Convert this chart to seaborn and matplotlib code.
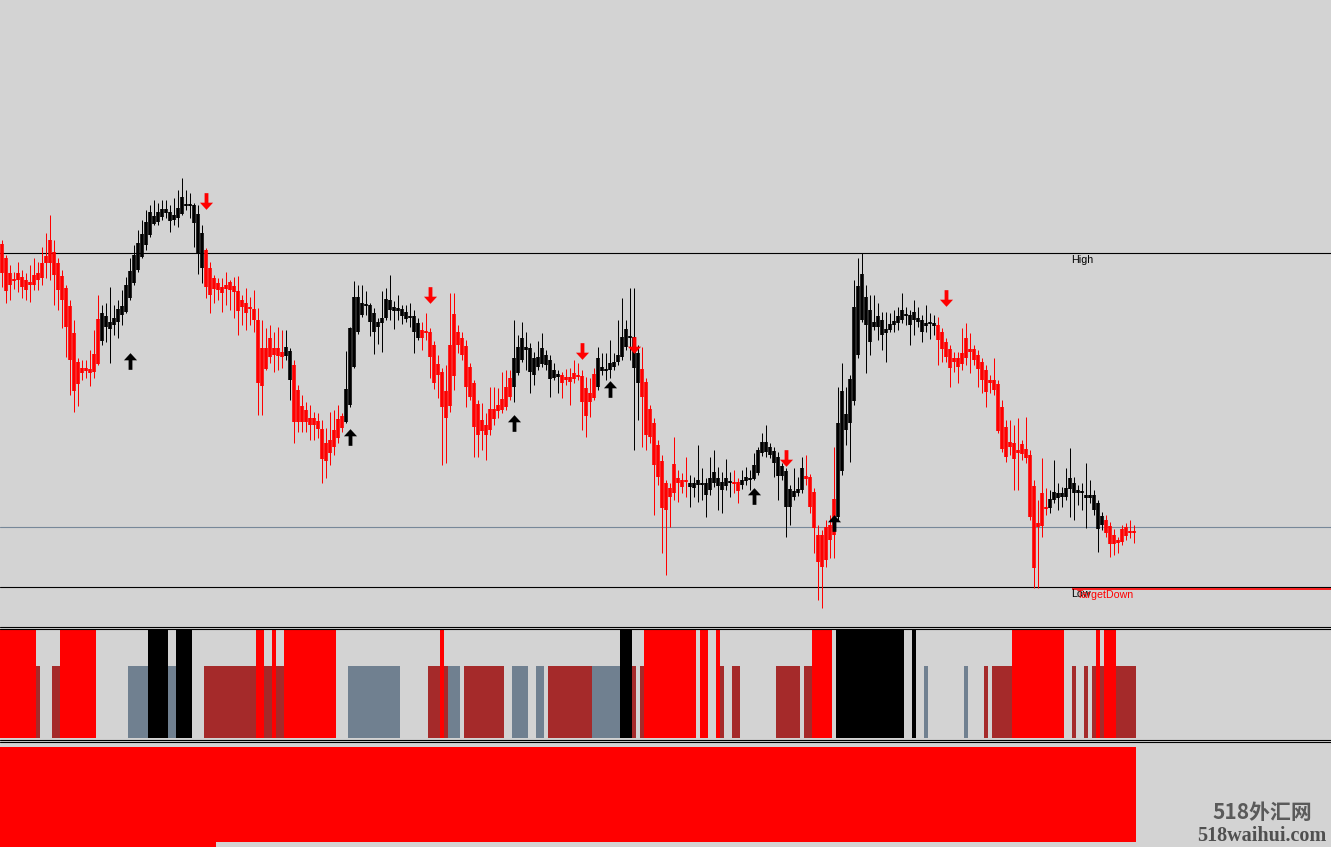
import numpy as np
import pandas as pd
import seaborn as sns
import matplotlib
matplotlib.use("Agg")
import matplotlib.pyplot as plt
from matplotlib.path import Path
from matplotlib.lines import Line2D

# ---------------- data (price in points) ----------------
body_hi = [376,362,347,341,347,343,340,338,345,347,357,364,380,368,357,344,332,314,287,258,
           252,252,251,266,301,307,304,298,302,311,314,335,349,365,377,386,398,408,404,408,
           411,411,408,405,412,423,416,416,415,406,387,370,352,342,337,333,335,338,334,329,
           320,317,313,311,300,272,272,282,272,272,268,273,269,255,230,214,210,202,202,199,
           191,177,180,190,201,204,231,292,323,323,317,315,315,307,298,302,321,320,313,312,
           311,308,303,304,297,290,289,288,275,256,248,229,275,306,288,282,274,253,237,216,
           200,195,211,211,215,221,233,242,262,273,282,273,272,262,263,272,265,260,250,246,
           245,243,243,247,244,244,232,227,246,262,253,251,257,258,265,283,291,284,283,267,
           251,238,211,197,175,159,137,132,156,142,140,140,137,137,140,137,137,142,148,142,
           138,142,139,138,138,140,143,142,155,170,178,178,173,169,163,154,149,131,129,131,
           152,144,143,128,85,85,93,95,121,197,229,206,241,313,334,346,323,310,298,304,
           300,291,296,299,304,310,306,305,308,302,300,297,297,297,295,288,278,271,262,262,
           267,282,271,271,265,258,250,240,240,236,213,193,178,177,170,176,171,165,134,97,
           127,113,121,128,127,127,132,142,137,130,129,125,125,125,117,104,100,94,85,80,
           91,93,89,89]
body_lo = [347,329,335,339,340,333,330,335,335,340,342,357,357,345,330,320,293,260,229,236,
           247,249,247,248,256,279,293,291,295,298,305,308,322,337,350,363,375,385,396,398,
           403,407,399,400,402,406,414,414,397,367,352,333,325,331,330,327,331,330,328,309,
           313,307,311,300,237,234,251,263,265,264,263,264,240,198,198,198,198,195,195,191,
           161,159,167,173,182,192,198,215,253,288,305,314,298,288,293,297,302,310,309,309,
           304,301,302,288,282,282,287,263,237,245,213,202,214,244,275,265,233,223,193,185,
           189,185,190,201,209,210,213,223,233,247,260,270,248,245,253,256,255,241,242,243,
           237,240,238,241,243,218,204,218,222,233,249,249,250,253,258,263,273,282,252,237,
           223,185,183,155,143,112,110,123,127,137,133,138,133,132,135,136,125,130,137,134,
           130,134,137,137,129,135,139,140,141,147,167,168,165,157,144,144,113,113,123,127,
           130,141,113,92,58,53,60,80,85,103,149,190,197,219,265,300,295,278,293,293,
           285,287,290,295,297,300,304,295,300,298,288,294,296,294,280,271,263,252,258,253,
           256,262,268,260,251,240,228,237,230,189,171,163,173,161,167,166,162,103,52,93,
           94,111,112,120,122,123,123,131,127,127,127,122,122,110,91,95,87,76,76,77,
           78,84,87,88]
high = [380,365,355,348,358,350,347,355,362,358,373,387,405,380,362,350,335,320,300,262,
        260,260,270,290,325,315,317,333,315,320,330,343,362,375,390,400,410,415,420,417,
        420,420,415,422,430,442,430,427,417,415,395,372,358,345,342,342,348,340,343,344,
        325,332,323,330,312,300,292,295,288,293,290,290,272,260,235,225,218,215,208,207,
        200,192,208,210,215,207,269,293,339,335,335,329,317,312,302,329,332,345,319,325,
        315,315,317,310,302,298,307,292,279,265,252,255,327,327,295,288,280,257,240,220,
        217,207,233,233,232,248,250,250,300,285,298,288,277,268,279,287,270,265,257,250,
        248,251,252,260,257,250,243,242,252,273,267,267,280,267,300,322,300,332,332,275,
        273,242,215,202,180,165,140,137,183,150,147,163,145,143,175,152,142,163,170,153,
        148,161,148,150,142,150,153,150,167,173,187,195,177,173,168,157,152,135,152,143,
        163,165,146,132,95,90,100,105,173,233,257,233,245,340,362,367,335,325,325,317,
        308,308,307,310,313,327,313,310,320,313,305,315,307,305,303,292,282,275,268,268,
        292,297,287,275,270,262,255,245,262,240,220,200,200,195,202,180,203,170,140,120,
        162,132,130,160,137,133,152,172,143,135,137,157,140,130,120,108,105,98,91,83,
        95,97,100,95]
low = [333,317,320,331,328,322,320,318,330,330,335,342,340,315,310,292,263,225,208,214,
       240,242,234,242,255,275,278,257,285,282,295,307,320,335,348,362,370,383,395,395,
       400,402,388,395,393,405,410,402,373,346,337,322,307,317,320,308,315,310,302,285,
       295,290,295,288,205,205,250,257,248,250,252,260,220,177,188,188,188,180,180,182,
       137,142,155,165,177,188,197,213,252,286,303,305,284,266,276,268,300,300,291,300,
       296,298,293,267,280,270,280,242,231,222,155,157,208,230,267,260,213,220,163,163,
       170,160,185,195,202,207,210,220,218,245,258,250,227,235,250,253,250,223,240,227,
       222,235,215,237,240,190,183,203,220,230,245,240,242,250,255,260,270,260,170,200,
       173,170,177,105,135,67,45,93,120,118,127,123,113,123,118,120,103,125,133,110,
       107,130,123,127,117,131,135,130,140,145,164,163,162,143,120,140,83,95,120,124,
       127,135,107,67,20,12,53,62,62,100,145,175,158,215,262,298,247,265,290,280,
       270,258,288,288,290,297,295,275,285,293,278,288,281,285,255,258,258,233,248,237,
       250,255,247,255,233,227,213,227,225,187,168,158,165,130,130,160,157,100,32,32,
       83,105,107,117,110,113,120,103,100,115,110,92,117,105,68,90,83,63,65,67,
       75,80,82,77]

# trend state runs for candle colouring: (start, end_exclusive, state)
trend_runs = [(0, 25, "bear"), (25, 51, "bull"), (51, 71, "bear"), (71, 73, "bull"),
              (73, 86, "bear"), (86, 105, "bull"), (105, 128, "bear"), (128, 140, "bull"),
              (140, 149, "bear"), (149, 160, "bull"), (160, 172, "bear"), (172, 183, "bull"),
              (183, 185, "bear"), (185, 201, "bull"), (201, 209, "bear"), (209, 234, "bull"),
              (234, 262, "bear"), (262, 276, "bull"), (276, 284, "bear")]

# signal arrows
arrow_up_idx = [32, 87, 128, 152, 188, 208]
arrow_up_val = [259, 183, 197, 231, 124, 97]
arrow_dn_idx = [51, 107, 145, 158, 196, 236]
arrow_dn_val = [419, 325, 269, 275, 162, 322]

# levels
level_high = 367
level_mid = 93
level_low = 33
target_down = 32
target_down_start = 268

# sub-window 1: strong signals (tall) and weak signals (mid)
strong_runs = [(0, 9, "sell"), (15, 24, "sell"), (37, 42, "buy"), (44, 48, "buy"),
               (64, 66, "sell"), (68, 69, "sell"), (71, 84, "sell"), (110, 111, "sell"),
               (155, 158, "buy"), (161, 174, "sell"), (175, 177, "sell"), (179, 180, "sell"),
               (203, 208, "sell"), (209, 226, "buy"), (228, 229, "buy"), (253, 266, "sell"),
               (274, 275, "sell"), (276, 279, "sell")]
weak_runs = [(9, 10, "down"), (13, 15, "down"), (32, 37, "flat"), (42, 44, "flat"),
             (51, 64, "down"), (66, 68, "down"), (69, 71, "down"), (87, 100, "flat"),
             (107, 112, "down"), (112, 115, "flat"), (116, 126, "down"), (128, 132, "flat"),
             (134, 136, "flat"), (137, 148, "down"), (148, 155, "flat"), (158, 159, "down"),
             (160, 161, "down"), (180, 181, "down"), (183, 185, "down"), (194, 200, "down"),
             (201, 203, "down"), (231, 232, "flat"), (241, 242, "flat"), (246, 247, "down"),
             (248, 253, "down"), (268, 269, "down"), (271, 272, "down"), (273, 274, "down"),
             (275, 276, "down"), (279, 284, "down")]
strong_height = 1.0
weak_height = 0.66

# sub-window 2: histogram values
hist_runs = [(0, 54, -1.2), (54, 284, -1.0)]

# ---------------- figure ----------------
sns.set_theme(style="white")
plt.rcParams['font.family'] = ['Liberation Sans', 'DejaVu Sans']

BG = "#d3d3d3"
W, H = 1331, 847
fig = plt.figure(figsize=(W / 100, H / 100), dpi=100, facecolor=BG)

def panel(top_px, bot_px):
    a = fig.add_axes([0, 1 - bot_px / H, 1, (bot_px - top_px) / H])
    a.set_facecolor(BG)
    a.set_axis_off()
    return a

n = min(len(body_hi), len(body_lo), len(high), len(low))
x = np.arange(n)
bh = np.array(body_hi[:n], float)
bl = np.array(body_lo[:n], float)
hi = np.maximum(np.array(high[:n], float), bh)
lo = np.minimum(np.array(low[:n], float), bl)
state = np.array(["bear"] * n, dtype=object)
for s, e, st in trend_runs:
    state[s:min(e, n)] = st

XMIN, XMAX = -0.375, -0.375 + W / 4.0

ax = panel(0, 626)
ax.set_xlim(XMIN, XMAX)
ax.set_ylim(-6, 620)

ax.axhline(level_high, color="black", lw=0.8)
ax.axhline(level_mid, color="#778899", lw=0.8)
ax.axhline(level_low, color="black", lw=0.8)
ax.hlines(target_down - 0.8, target_down_start - 0.5, XMAX, color="red", lw=1.2)

PX = 72.0 / 100.0  # points per pixel
for st, col in [("bull", "black"), ("bear", "red")]:
    m = state == st
    ax.vlines(x[m], lo[m], hi[m], color=col, lw=1.0 * PX, capstyle="butt")
    hgt = np.maximum(bh[m] - bl[m], 2.0)
    mid = (bh[m] + bl[m]) / 2
    ax.vlines(x[m], mid - hgt / 2, mid + hgt / 2, color=col, lw=3.6 * PX, capstyle="butt")

up_path = Path([(0, 7), (5.5, 1), (1.6, 1), (1.6, -7), (-1.6, -7), (-1.6, 1), (-5.5, 1), (0, 7)],
               [Path.MOVETO] + [Path.LINETO] * 6 + [Path.CLOSEPOLY])
dn_path = Path([(0, -7), (5.5, -1), (1.6, -1), (1.6, 7), (-1.6, 7), (-1.6, -1), (-5.5, -1), (0, -7)],
               [Path.MOVETO] + [Path.LINETO] * 6 + [Path.CLOSEPOLY])
ax.plot(arrow_up_idx, arrow_up_val, linestyle="none", marker=up_path, markersize=12,
        color="black", markeredgewidth=0)
ax.plot(arrow_dn_idx, arrow_dn_val, linestyle="none", marker=dn_path, markersize=12,
        color="red", markeredgewidth=0)

ax.text(267.5, level_high - 7, "High", fontsize=7.7, color="black", va="center", ha="left")
ax.text(267.3, level_low - 7, "Low", fontsize=7.7, color="black", va="center", ha="left")
ax.text(268.8, level_low - 8, "TargetDown", fontsize=7.7, color="red", va="center", ha="left")

# sub-window 1
ax2 = panel(628, 740)
ax2.set_xlim(XMIN, XMAX)
ax2.set_ylim(-2 / 109, 1 + 1 / 109)
weak_col = {"down": "#a52a2a", "flat": "#708090"}
strong_col = {"sell": "#ff0000", "buy": "#000000"}
for s, e, k in weak_runs:
    idx = np.arange(s, e)
    ax2.bar(idx, np.full(len(idx), weak_height), width=1.0, color=weak_col[k], linewidth=0)
for s, e, k in strong_runs:
    idx = np.arange(s, e)
    ax2.bar(idx, np.full(len(idx), strong_height), width=1.0, color=strong_col[k], linewidth=0)

# sub-window 2
ax3 = panel(741, 847)
ax3.set_xlim(XMIN, XMAX)
ax3.set_ylim(-100 / 95, 6 / 95)
for s, e, v in hist_runs:
    idx = np.arange(s, e)
    ax3.bar(idx, np.full(len(idx), v), width=1.0, color="#ff0000", linewidth=0)

# window separators
for r in [626.5, 628.5, 739.5, 741.5]:
    fig.add_artist(Line2D([0, 1], [1 - r / H, 1 - r / H], transform=fig.transFigure,
                          color="black", lw=0.8))

# watermark
fig.text(1262 / W, 1 - 812 / H, "518外汇网", fontsize=15, color="#5a5a5a", ha="center",
         va="center", family=["Noto Sans CJK SC", "DejaVu Sans"], fontweight="bold",
         fontstyle="italic")
fig.text(1262 / W, 1 - 836 / H, "518waihui.com", fontsize=14.5, color="#505050", ha="center",
         va="center", family=["Liberation Serif", "DejaVu Serif"], fontweight="bold")

fig.savefig("out.png", dpi=100, facecolor=BG)
